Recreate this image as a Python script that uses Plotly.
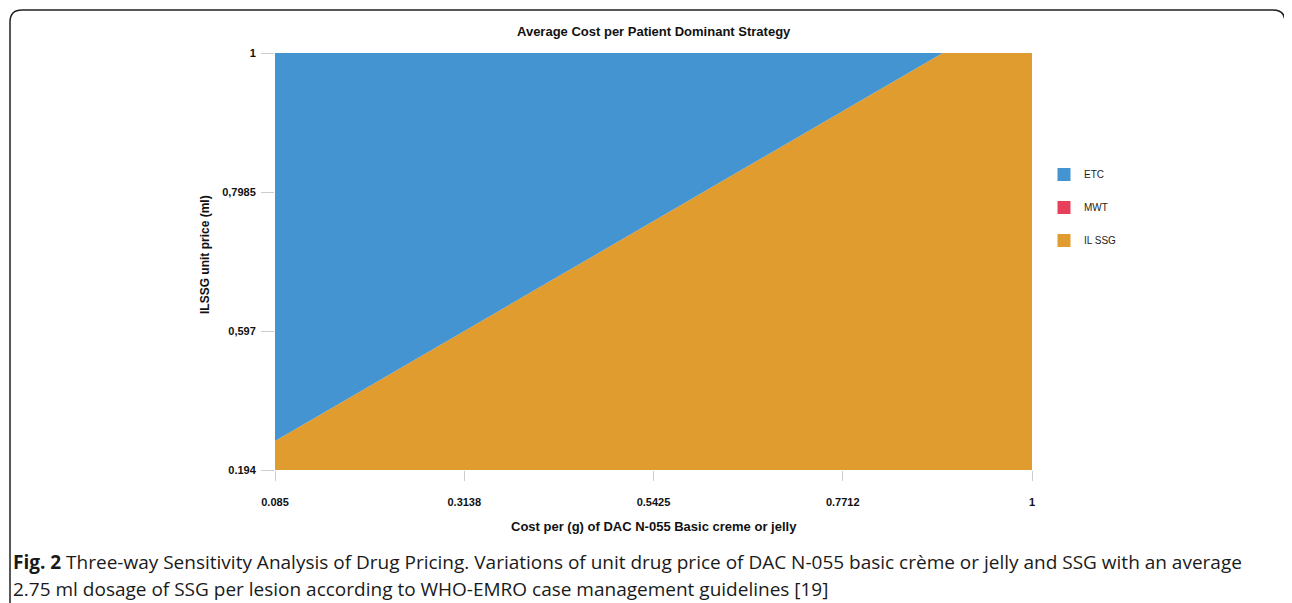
import plotly.graph_objects as go

# ---- data ----
x_min, x_max = 0.085, 1.0
y_min, y_max = 0.194, 1.0
# boundary between ETC (above) and IL SSG (below)
boundary_x = [0.085, 0.892]
boundary_y = [0.250, 1.0]

x_tickvals = [0.085, 0.3138, 0.5425, 0.7712, 1.0]
x_ticktext = ["0.085", "0.3138", "0.5425", "0.7712", "1"]
# y tick labels sit at equal spacing along the axis
y_ticktext = ["0.194", "0,597", "0,7985", "1"]

strategies = ["ETC", "MWT", "IL SSG"]
colors = {"ETC": "#4394D0", "MWT": "#E8405A", "IL SSG": "#E09C2E"}

title = "Average Cost per Patient Dominant Strategy"
x_title = "Cost per (g) of DAC N-055 Basic creme or jelly"
y_title = "ILSSG unit price (ml)"
caption_1 = ("<b>Fig. 2</b> Three-way Sensitivity Analysis of Drug Pricing. Variations of unit drug price of "
             "DAC N-055 basic crème or jelly and SSG with an average")
caption_2 = "2.75 ml dosage of SSG per lesion according to WHO-EMRO case management guidelines [19]"

# page body has an 8px margin: figure coords = screen coords - 8
OFF = 8
W, H = 1292 - OFF, 603 - OFF
L, T = 275 - OFF, 53 - OFF
PW, PH = 757, 417
R, B = W - L - PW, H - T - PH
FONT = "Liberation Sans Narrow, Arial Narrow, Liberation Sans, sans-serif"

fig = go.Figure()

# IL SSG region (below boundary)
fig.add_trace(go.Scatter(
    x=[boundary_x[0], boundary_x[1], x_max, x_max, x_min],
    y=[boundary_y[0], boundary_y[1], y_max, y_min, y_min],
    fill="toself", mode="lines", line=dict(width=0),
    fillcolor=colors["IL SSG"], showlegend=False, hoverinfo="skip"))
# ETC region (above boundary)
fig.add_trace(go.Scatter(
    x=[boundary_x[0], x_min, boundary_x[1]],
    y=[boundary_y[0], y_max, boundary_y[1]],
    fill="toself", mode="lines", line=dict(width=0),
    fillcolor=colors["ETC"], showlegend=False, hoverinfo="skip"))

for s in strategies:
    fig.add_trace(go.Scatter(
        x=[None], y=[None], mode="markers", name=s, legendgroup=s,
        marker=dict(symbol="square", size=13, color=colors[s])))

y_tickvals = [y_min + (y_max - y_min) * k / 3 for k in range(4)]

def px2paper_x(p):  # screen pixel -> paper
    return (p - OFF - L) / PW

def px2paper_y(q):
    return (T + PH - (q - OFF)) / PH

fig.update_layout(
    width=W, height=H,
    margin=dict(l=L, r=R, t=T, b=B),
    plot_bgcolor="white", paper_bgcolor="white",
    font=dict(family=FONT, size=11, color="#111"),
    xaxis=dict(range=[x_min, x_max], tickvals=x_tickvals, ticktext=x_ticktext,
               showgrid=False, zeroline=False, showline=False,
               ticks="outside", ticklen=10, tickcolor="#cccccc",
               ticklabelstandoff=12,
               tickfont=dict(family=FONT, size=11, color="#111", weight="bold")),
    yaxis=dict(range=[y_min, y_max], tickvals=y_tickvals, ticktext=y_ticktext,
               showgrid=False, zeroline=False, showline=False,
               ticks="outside", ticklen=13, tickcolor="#cccccc",
               ticklabelstandoff=3,
               tickfont=dict(family=FONT, size=11, color="#111", weight="bold")),
    legend=dict(x=px2paper_x(1044), y=px2paper_y(160), xanchor="left", yanchor="top",
                font=dict(family=FONT, size=10, color="#222"),
                tracegroupgap=14, bgcolor="rgba(0,0,0,0)"),
    showlegend=True,
)

fig.add_annotation(text="<b>" + title + "</b>", xref="paper", yref="paper",
                   x=0.5, y=px2paper_y(31), showarrow=False,
                   xanchor="center", yanchor="middle",
                   font=dict(family=FONT, size=13, color="#111"))
fig.add_annotation(text="<b>" + x_title + "</b>", xref="paper", yref="paper",
                   x=0.5, y=px2paper_y(526), showarrow=False,
                   xanchor="center", yanchor="middle",
                   font=dict(family=FONT, size=13, color="#111"))
fig.add_annotation(text="<b>" + y_title + "</b>", xref="paper", yref="paper",
                   x=px2paper_x(205), y=px2paper_y(255), showarrow=False, textangle=-90,
                   xanchor="center", yanchor="middle",
                   font=dict(family=FONT, size=12, color="#111"))
for txt, yy in [(caption_1, 562), (caption_2, 589)]:
    fig.add_annotation(text=txt, xref="paper", yref="paper",
                       x=px2paper_x(11), y=px2paper_y(yy), showarrow=False,
                       xanchor="left", yanchor="middle", align="left",
                       font=dict(family="Open Sans, Noto Sans, sans-serif", size=19, color="#1a1a1a"))

# rounded frame around figure (open at bottom)
x0, x1, y0 = px2paper_x(10), px2paper_x(1285), px2paper_y(10)
yb = px2paper_y(640)
rx = 12 / PW
ry = 12 / PH
path = (f"M {x0},{yb} L {x0},{y0 - ry} Q {x0},{y0} {x0 + rx},{y0} "
        f"L {x1 - rx},{y0} Q {x1},{y0} {x1},{y0 - ry} L {x1},{yb}")
fig.add_shape(type="path", path=path, xref="paper", yref="paper",
              line=dict(color="#222", width=1.5), layer="above")

fig.write_html("out.html")
